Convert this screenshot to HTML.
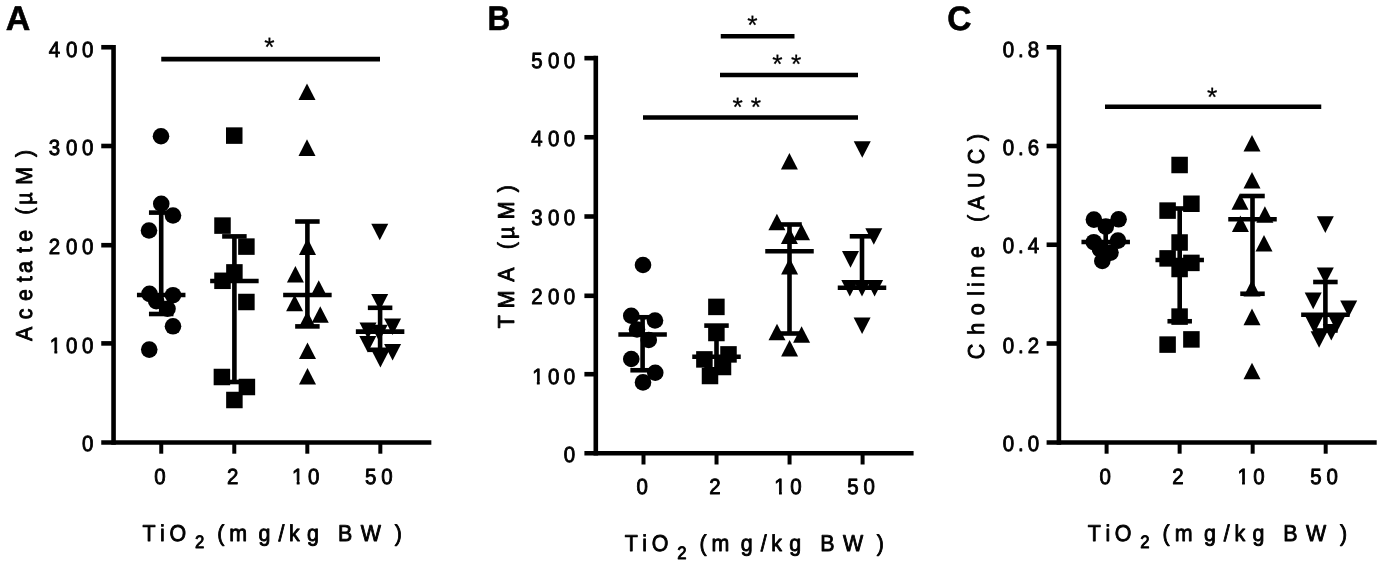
<!DOCTYPE html>
<html lang="en"><head><meta charset="utf-8"><title>Figure: Acetate, TMA and Choline vs TiO2 dose</title>
<style>
html,body{margin:0;padding:0;background:#fff}
svg{display:block}
svg text{font-family:"Liberation Sans",Arial,Helvetica,sans-serif;fill:#000;white-space:pre;text-rendering:geometricPrecision}
svg text.t{stroke:#000;stroke-width:0.9px;stroke-linejoin:round}
svg text.b{stroke:#000;stroke-width:.6px;stroke-linejoin:round}
svg text.s{stroke:#000;stroke-width:.25px}
svg>g{filter:blur(.35px)}
svg line{stroke:#000;fill:none;stroke-linecap:butt}
svg circle,svg rect,svg path{fill:#000}
</style></head><body>
<svg width="1384" height="573" viewBox="0 0 1384 573">
<rect x="0" y="0" width="1384" height="573" style="fill:#fff"/>
<g id="panelA">
<line x1="113.55" y1="44.95" x2="113.55" y2="444.8" stroke-width="4.6"/>
<line x1="101.25" y1="47.25" x2="113.55" y2="47.25" stroke-width="4.6"/>
<line x1="101.25" y1="146" x2="113.55" y2="146" stroke-width="4.6"/>
<line x1="101.25" y1="245.2" x2="113.55" y2="245.2" stroke-width="4.6"/>
<line x1="101.25" y1="343.4" x2="113.55" y2="343.4" stroke-width="4.6"/>
<line x1="101.25" y1="442.5" x2="431.35" y2="442.5" stroke-width="4.6"/>
<line x1="161.25" y1="442.5" x2="161.25" y2="453.7" stroke-width="4"/>
<line x1="234.28" y1="442.5" x2="234.28" y2="453.7" stroke-width="4"/>
<line x1="307.31" y1="442.5" x2="307.31" y2="453.7" stroke-width="4"/>
<line x1="380.34" y1="442.5" x2="380.34" y2="453.7" stroke-width="4"/>
<text class="t" transform="scale(0.93 1)" x="52.45 71.08 88.28" y="57.25" font-size="22">400</text>
<text class="t" transform="scale(0.93 1)" x="52.45 71.08 88.28" y="154.8" font-size="22">300</text>
<text class="t" transform="scale(0.93 1)" x="52.45 71.08 88.28" y="253.9" font-size="22">200</text>
<clipPath id="c1"><rect x="51.53" y="331.4" width="15.4" height="19.11"/><rect x="58.53" y="349" width="3.01" height="6.4"/><rect x="69.08" y="331.4" width="16.5" height="28.6"/><rect x="86.28" y="331.4" width="16.5" height="28.6"/></clipPath>
<text class="t" transform="scale(0.93 1)" clip-path="url(#c1)" x="53.53 71.08 88.28" y="353.4" font-size="22">100</text>
<text class="t" transform="scale(0.93 1)" x="88.28" y="451.3" font-size="22">0</text>
<text class="t" transform="scale(0.93 1)" x="165.81" y="483.5" font-size="22">0</text>
<text class="t" transform="scale(0.93 1)" x="244.09" y="483.5" font-size="22">2</text>
<clipPath id="c2"><rect x="312.09" y="461.5" width="15.4" height="19.11"/><rect x="319.09" y="479.1" width="3.01" height="6.4"/><rect x="329.14" y="461.5" width="16.5" height="28.6"/></clipPath>
<text class="t" transform="scale(0.93 1)" clip-path="url(#c2)" x="314.09 331.14" y="483.5" font-size="22">10</text>
<text class="t" transform="scale(0.93 1)" x="392.45 409.89" y="483.5" font-size="22">50</text>
<text class="t" transform="scale(0.93 1)" y="540.5" font-size="23" x="153.25 172.12 182.24">TiO<tspan x="209.63" dy="7.8" font-size="18">2</tspan><tspan dy="-7.8" x="224.46 233.52 246.64 278.07 299.46 310.82 330.22 352.42 363.44 387.86 424.33"> (mg/kg BW)</tspan></text>
<text transform="scale(1 1)" x="5.8" y="30.35" font-size="34" font-weight="bold" class="b">A</text>
<text class="t" transform="translate(32.4 0) rotate(-90) scale(0.93 1)" x="-366.66 -343.18 -323.61 -303.41 -293.5 -272.01 -260.06 -245.16 -230.83 -220.12 -198.61 -168.79" y="0" font-size="23">Acetate (µM)</text>
<line x1="161.25" y1="59.1" x2="380" y2="59.1" stroke-width="4.6"/>
<text class="s" x="264.14" y="55.98" font-size="26.5">*</text>
<line x1="136.95" y1="295" x2="185.45" y2="295" stroke-width="4.6"/>
<line x1="161.2" y1="212.6" x2="161.2" y2="314" stroke-width="4.6"/>
<line x1="148.95" y1="212.6" x2="173.45" y2="212.6" stroke-width="4.6"/>
<line x1="148.95" y1="314" x2="173.45" y2="314" stroke-width="4.6"/>
<circle cx="161" cy="136.25" r="8.3"/>
<circle cx="161.25" cy="203.75" r="8.3"/>
<circle cx="173" cy="215.5" r="8.3"/>
<circle cx="149" cy="230.5" r="8.3"/>
<circle cx="149.5" cy="293.9" r="8.3"/>
<circle cx="173" cy="295.2" r="8.3"/>
<circle cx="156.25" cy="301.25" r="8.3"/>
<circle cx="167.5" cy="308.75" r="8.3"/>
<circle cx="173" cy="326.3" r="8.3"/>
<circle cx="149.25" cy="349.6" r="8.3"/>
<line x1="210.15" y1="281" x2="258.65" y2="281" stroke-width="4.6"/>
<line x1="234.4" y1="236.4" x2="234.4" y2="382" stroke-width="4.6"/>
<line x1="222.15" y1="236.4" x2="246.65" y2="236.4" stroke-width="4.6"/>
<line x1="222.15" y1="382" x2="246.65" y2="382" stroke-width="4.6"/>
<rect x="226" y="127.35" width="16.5" height="16.5"/>
<rect x="214.25" y="217.35" width="16.5" height="16.5"/>
<rect x="238.15" y="238.35" width="16.5" height="16.5"/>
<rect x="226.15" y="264.15" width="16.5" height="16.5"/>
<rect x="214.25" y="272.55" width="16.5" height="16.5"/>
<rect x="238.15" y="293.75" width="16.5" height="16.5"/>
<rect x="213.65" y="368.75" width="16.5" height="16.5"/>
<rect x="238.65" y="378.75" width="16.5" height="16.5"/>
<rect x="226.15" y="391.75" width="16.5" height="16.5"/>
<line x1="283.15" y1="295" x2="331.65" y2="295" stroke-width="4.6"/>
<line x1="307.4" y1="221.5" x2="307.4" y2="326.4" stroke-width="4.6"/>
<line x1="295.15" y1="221.5" x2="319.65" y2="221.5" stroke-width="4.6"/>
<line x1="295.15" y1="326.4" x2="319.65" y2="326.4" stroke-width="4.6"/>
<path d="M307 83.5L315.5 100.1H298.5Z"/>
<path d="M307 139.3L315.5 155.9H298.5Z"/>
<path d="M307.5 238.3L316 254.9H299Z"/>
<path d="M295.4 266L303.9 282.6H286.9Z"/>
<path d="M318.75 280.2L327.25 296.8H310.25Z"/>
<path d="M294.6 294.7L303.1 311.3H286.1Z"/>
<path d="M320.25 306.2L328.75 322.8H311.75Z"/>
<path d="M307.25 311L315.75 327.6H298.75Z"/>
<path d="M307.5 342.4L316 359H299Z"/>
<path d="M307.5 368L316 384.6H299Z"/>
<line x1="355.85" y1="331.6" x2="404.35" y2="331.6" stroke-width="4.6"/>
<line x1="380.1" y1="307.8" x2="380.1" y2="349.8" stroke-width="4.6"/>
<line x1="367.85" y1="307.8" x2="392.35" y2="307.8" stroke-width="4.6"/>
<line x1="367.85" y1="349.8" x2="392.35" y2="349.8" stroke-width="4.6"/>
<path d="M371.25 223.75H388.25L379.75 240.35Z"/>
<path d="M371.2 294H388.2L379.7 310.6Z"/>
<path d="M384.1 318.5H401.1L392.6 335.1Z"/>
<path d="M359.5 322.5H376.5L368 339.1Z"/>
<path d="M370.7 324.8H387.7L379.2 341.4Z"/>
<path d="M359.3 336H376.3L367.8 352.6Z"/>
<path d="M384.1 344H401.1L392.6 360.6Z"/>
<path d="M371.9 351H388.9L380.4 367.6Z"/>
</g>
<g id="panelB">
<line x1="595.8" y1="55.85" x2="595.8" y2="455.6" stroke-width="4.6"/>
<line x1="584.4" y1="58.15" x2="595.8" y2="58.15" stroke-width="4.6"/>
<line x1="584.4" y1="137.25" x2="595.8" y2="137.25" stroke-width="4.6"/>
<line x1="584.4" y1="216.5" x2="595.8" y2="216.5" stroke-width="4.6"/>
<line x1="584.4" y1="295.8" x2="595.8" y2="295.8" stroke-width="4.6"/>
<line x1="584.4" y1="374.2" x2="595.8" y2="374.2" stroke-width="4.6"/>
<line x1="584.4" y1="453.3" x2="913.6" y2="453.3" stroke-width="4.6"/>
<line x1="643.5" y1="453.3" x2="643.5" y2="464.5" stroke-width="4"/>
<line x1="716.53" y1="453.3" x2="716.53" y2="464.5" stroke-width="4"/>
<line x1="789.56" y1="453.3" x2="789.56" y2="464.5" stroke-width="4"/>
<line x1="862.59" y1="453.3" x2="862.59" y2="464.5" stroke-width="4"/>
<text class="t" transform="scale(0.93 1)" x="571.22 589.25 606.13" y="68.15" font-size="22">500</text>
<text class="t" transform="scale(0.93 1)" x="571.22 589.25 606.13" y="146.25" font-size="22">400</text>
<text class="t" transform="scale(0.93 1)" x="571.22 589.25 606.13" y="224.8" font-size="22">300</text>
<text class="t" transform="scale(0.93 1)" x="571.22 589.25 606.13" y="304.3" font-size="22">200</text>
<clipPath id="c3"><rect x="570.29" y="361.8" width="15.4" height="19.11"/><rect x="577.29" y="379.4" width="3.01" height="6.4"/><rect x="587.25" y="361.8" width="16.5" height="28.6"/><rect x="604.13" y="361.8" width="16.5" height="28.6"/></clipPath>
<text class="t" transform="scale(0.93 1)" clip-path="url(#c3)" x="572.29 589.25 606.13" y="383.8" font-size="22">100</text>
<text class="t" transform="scale(0.93 1)" x="606.13" y="462" font-size="22">0</text>
<text class="t" transform="scale(0.93 1)" x="684.36" y="494.3" font-size="22">0</text>
<text class="t" transform="scale(0.93 1)" x="762.64" y="494.3" font-size="22">2</text>
<clipPath id="c4"><rect x="830.64" y="472.3" width="15.4" height="19.11"/><rect x="837.64" y="489.9" width="3.01" height="6.4"/><rect x="847.69" y="472.3" width="16.5" height="28.6"/></clipPath>
<text class="t" transform="scale(0.93 1)" clip-path="url(#c4)" x="832.64 849.69" y="494.3" font-size="22">10</text>
<text class="t" transform="scale(0.93 1)" x="911 928.44" y="494.3" font-size="22">50</text>
<text class="t" transform="scale(0.93 1)" y="551.3" font-size="23" x="671.8 690.67 700.79">TiO<tspan x="728.18" dy="7.8" font-size="18">2</tspan><tspan dy="-7.8" x="743.01 752.07 765.19 796.61 818.01 829.36 848.77 870.97 881.98 906.4 942.88"> (mg/kg BW)</tspan></text>
<text transform="scale(0.925 1)" x="527.03" y="30" font-size="34" font-weight="bold" class="b">B</text>
<text class="t" transform="translate(514.4 0) rotate(-90) scale(0.93 1)" x="-352.83 -331.4 -302.89 -284.95 -267.93 -257.11 -235.81 -206.64" y="0" font-size="23">TMA (µM)</text>
<line x1="720.75" y1="36.25" x2="794.5" y2="36.25" stroke-width="4.6"/>
<text class="s" x="747.34" y="33.98" font-size="26.5">*</text>
<line x1="720" y1="75" x2="858" y2="75" stroke-width="4.6"/>
<text class="s" x="772.34" y="72.83" font-size="26.5">*</text>
<text class="s" x="791.09" y="72.83" font-size="26.5">*</text>
<line x1="643" y1="117.5" x2="858" y2="117.5" stroke-width="4.6"/>
<text class="s" x="732.59" y="115.98" font-size="26.5">*</text>
<text class="s" x="750.74" y="115.98" font-size="26.5">*</text>
<line x1="618.35" y1="334.5" x2="666.85" y2="334.5" stroke-width="4.6"/>
<line x1="642.6" y1="317.25" x2="642.6" y2="370.25" stroke-width="4.6"/>
<line x1="630.35" y1="317.25" x2="654.85" y2="317.25" stroke-width="4.6"/>
<line x1="630.35" y1="370.25" x2="654.85" y2="370.25" stroke-width="4.6"/>
<circle cx="643" cy="265" r="8.3"/>
<circle cx="631.25" cy="315.75" r="8.3"/>
<circle cx="655" cy="320.5" r="8.3"/>
<circle cx="637" cy="329.5" r="8.3"/>
<circle cx="648.75" cy="340" r="8.3"/>
<circle cx="631.25" cy="359" r="8.3"/>
<circle cx="655.25" cy="372.75" r="8.3"/>
<circle cx="643" cy="382.4" r="8.3"/>
<line x1="692.25" y1="356.75" x2="740.75" y2="356.75" stroke-width="4.6"/>
<line x1="716.5" y1="325.6" x2="716.5" y2="369.3" stroke-width="4.6"/>
<line x1="704.25" y1="325.6" x2="728.75" y2="325.6" stroke-width="4.6"/>
<line x1="704.25" y1="369.3" x2="728.75" y2="369.3" stroke-width="4.6"/>
<rect x="708.15" y="298.65" width="16.5" height="16.5"/>
<rect x="708.15" y="324.75" width="16.5" height="16.5"/>
<rect x="720.25" y="346.15" width="16.5" height="16.5"/>
<rect x="696.15" y="351.15" width="16.5" height="16.5"/>
<rect x="714.75" y="358.75" width="16.5" height="16.5"/>
<rect x="701.75" y="367.75" width="16.5" height="16.5"/>
<line x1="765.25" y1="251.25" x2="813.75" y2="251.25" stroke-width="4.6"/>
<line x1="789.5" y1="224.5" x2="789.5" y2="333.5" stroke-width="4.6"/>
<line x1="777.25" y1="224.5" x2="801.75" y2="224.5" stroke-width="4.6"/>
<line x1="777.25" y1="333.5" x2="801.75" y2="333.5" stroke-width="4.6"/>
<path d="M789.4 153L797.9 169.6H780.9Z"/>
<path d="M776.9 213.75L785.4 230.35H768.4Z"/>
<path d="M801.5 223.75L810 240.35H793Z"/>
<path d="M789.4 227.5L797.9 244.1H780.9Z"/>
<path d="M789.6 258L798.1 274.6H781.1Z"/>
<path d="M777 323.75L785.5 340.35H768.5Z"/>
<path d="M801.6 326.25L810.1 342.85H793.1Z"/>
<path d="M789.6 340L798.1 356.6H781.1Z"/>
<line x1="837.75" y1="287.7" x2="886.25" y2="287.7" stroke-width="4.6"/>
<line x1="862" y1="236.3" x2="862" y2="287.7" stroke-width="4.6"/>
<line x1="849.75" y1="236.3" x2="874.25" y2="236.3" stroke-width="4.6"/>
<line x1="849.75" y1="287.7" x2="874.25" y2="287.7" stroke-width="4.6"/>
<path d="M853.75 141.25H870.75L862.25 157.85Z"/>
<path d="M865.3 228.25H882.3L873.8 244.85Z"/>
<path d="M842 251.1H859L850.5 267.7Z"/>
<path d="M841.3 280H858.3L849.8 296.6Z"/>
<path d="M853.5 280H870.5L862 296.6Z"/>
<path d="M866.1 280H883.1L874.6 296.6Z"/>
<path d="M853.6 317.5H870.6L862.1 334.1Z"/>
</g>
<g id="panelC">
<line x1="1058.9" y1="45" x2="1058.9" y2="444.8" stroke-width="4.6"/>
<line x1="1046.6" y1="47.3" x2="1058.9" y2="47.3" stroke-width="4.6"/>
<line x1="1046.6" y1="146" x2="1058.9" y2="146" stroke-width="4.6"/>
<line x1="1046.6" y1="244.75" x2="1058.9" y2="244.75" stroke-width="4.6"/>
<line x1="1046.6" y1="343.5" x2="1058.9" y2="343.5" stroke-width="4.6"/>
<line x1="1046.6" y1="442.5" x2="1376.7" y2="442.5" stroke-width="4.6"/>
<line x1="1106.6" y1="442.5" x2="1106.6" y2="453.7" stroke-width="4"/>
<line x1="1179.63" y1="442.5" x2="1179.63" y2="453.7" stroke-width="4"/>
<line x1="1252.66" y1="442.5" x2="1252.66" y2="453.7" stroke-width="4"/>
<line x1="1325.69" y1="442.5" x2="1325.69" y2="453.7" stroke-width="4"/>
<text class="t" transform="scale(0.93 1)" x="1078.23 1094.71 1105.12" y="57.3" font-size="22">0.8</text>
<text class="t" transform="scale(0.93 1)" x="1078.23 1094.71 1105.12" y="154.8" font-size="22">0.6</text>
<text class="t" transform="scale(0.93 1)" x="1078.23 1094.71 1105.12" y="253.45" font-size="22">0.4</text>
<text class="t" transform="scale(0.93 1)" x="1078.23 1094.71 1105.12" y="353" font-size="22">0.2</text>
<text class="t" transform="scale(0.93 1)" x="1078.23 1094.71 1105.12" y="451.3" font-size="22">0.0</text>
<text class="t" transform="scale(0.93 1)" x="1182.31" y="483.5" font-size="22">0</text>
<text class="t" transform="scale(0.93 1)" x="1260.59" y="483.5" font-size="22">2</text>
<clipPath id="c5"><rect x="1328.59" y="461.5" width="15.4" height="19.11"/><rect x="1335.59" y="479.1" width="3.01" height="6.4"/><rect x="1345.65" y="461.5" width="16.5" height="28.6"/></clipPath>
<text class="t" transform="scale(0.93 1)" clip-path="url(#c5)" x="1330.59 1347.65" y="483.5" font-size="22">10</text>
<text class="t" transform="scale(0.93 1)" x="1408.96 1426.4" y="483.5" font-size="22">50</text>
<text class="t" transform="scale(0.93 1)" y="540.5" font-size="23" x="1169.75 1188.62 1198.75">TiO<tspan x="1226.14" dy="7.8" font-size="18">2</tspan><tspan dy="-7.8" x="1240.97 1250.03 1263.15 1294.57 1315.97 1327.32 1346.72 1368.92 1379.94 1404.36 1440.83"> (mg/kg BW)</tspan></text>
<text transform="scale(0.985 1)" x="961.73" y="29.9" font-size="34" font-weight="bold" class="b">C</text>
<text class="t" transform="translate(984.1 0) rotate(-90) scale(0.93 1)" x="-386.17 -359.82 -338.87 -317.95 -308.69 -298.57 -277.37 -258.06 -238.68 -225.8 -202.04 -176.49 -151.59" y="0" font-size="23">Choline (AUC)</text>
<line x1="1105" y1="106.75" x2="1321.25" y2="106.75" stroke-width="4.6"/>
<text class="s" x="1206.94" y="105.68" font-size="26.5">*</text>
<line x1="1081.45" y1="242" x2="1129.95" y2="242" stroke-width="4.6"/>
<line x1="1105.7" y1="221.5" x2="1105.7" y2="251.7" stroke-width="4.6"/>
<line x1="1093.45" y1="221.5" x2="1117.95" y2="221.5" stroke-width="4.6"/>
<line x1="1093.45" y1="251.7" x2="1117.95" y2="251.7" stroke-width="4.6"/>
<circle cx="1093.9" cy="219.6" r="8.3"/>
<circle cx="1118.6" cy="219.3" r="8.3"/>
<circle cx="1105.8" cy="226.6" r="8.3"/>
<circle cx="1093.8" cy="242.2" r="8.3"/>
<circle cx="1118" cy="240.6" r="8.3"/>
<circle cx="1099.9" cy="249.1" r="8.3"/>
<circle cx="1110.5" cy="252.6" r="8.3"/>
<circle cx="1102.3" cy="261" r="8.3"/>
<line x1="1155.45" y1="260" x2="1203.95" y2="260" stroke-width="4.6"/>
<line x1="1179.7" y1="208.5" x2="1179.7" y2="321.25" stroke-width="4.6"/>
<line x1="1167.45" y1="208.5" x2="1191.95" y2="208.5" stroke-width="4.6"/>
<line x1="1167.45" y1="321.25" x2="1191.95" y2="321.25" stroke-width="4.6"/>
<rect x="1171.35" y="156.75" width="16.5" height="16.5"/>
<rect x="1183.15" y="195.5" width="16.5" height="16.5"/>
<rect x="1159.35" y="202.35" width="16.5" height="16.5"/>
<rect x="1171.35" y="234.25" width="16.5" height="16.5"/>
<rect x="1159.35" y="250.15" width="16.5" height="16.5"/>
<rect x="1183.15" y="254.65" width="16.5" height="16.5"/>
<rect x="1171.35" y="260.75" width="16.5" height="16.5"/>
<rect x="1171.35" y="308.35" width="16.5" height="16.5"/>
<rect x="1183.15" y="331.15" width="16.5" height="16.5"/>
<rect x="1159.35" y="336.35" width="16.5" height="16.5"/>
<line x1="1228.25" y1="219.3" x2="1276.75" y2="219.3" stroke-width="4.6"/>
<line x1="1252.5" y1="196" x2="1252.5" y2="293.75" stroke-width="4.6"/>
<line x1="1240.25" y1="196" x2="1264.75" y2="196" stroke-width="4.6"/>
<line x1="1240.25" y1="293.75" x2="1264.75" y2="293.75" stroke-width="4.6"/>
<path d="M1252 135L1260.5 151.6H1243.5Z"/>
<path d="M1252 172L1260.5 188.6H1243.5Z"/>
<path d="M1240 193.2L1248.5 209.8H1231.5Z"/>
<path d="M1264.9 206.25L1273.4 222.85H1256.4Z"/>
<path d="M1240.4 215.5L1248.9 232.1H1231.9Z"/>
<path d="M1264 235L1272.5 251.6H1255.5Z"/>
<path d="M1252 279.8L1260.5 296.4H1243.5Z"/>
<path d="M1252 308.6L1260.5 325.2H1243.5Z"/>
<path d="M1252 362.7L1260.5 379.3H1243.5Z"/>
<line x1="1301.15" y1="314.7" x2="1349.65" y2="314.7" stroke-width="4.6"/>
<line x1="1325.4" y1="282" x2="1325.4" y2="330.5" stroke-width="4.6"/>
<line x1="1313.15" y1="282" x2="1337.65" y2="282" stroke-width="4.6"/>
<line x1="1313.15" y1="330.5" x2="1337.65" y2="330.5" stroke-width="4.6"/>
<path d="M1316.8 216.3H1333.8L1325.3 232.9Z"/>
<path d="M1316.8 267.5H1333.8L1325.3 284.1Z"/>
<path d="M1304.7 292.6H1321.7L1313.2 309.2Z"/>
<path d="M1340.2 300.5H1357.2L1348.7 317.1Z"/>
<path d="M1305.7 317H1322.7L1314.2 333.6Z"/>
<path d="M1328.4 315.4H1345.4L1336.9 332Z"/>
<path d="M1322.8 324H1339.8L1331.3 340.6Z"/>
<path d="M1310.6 331.2H1327.6L1319.1 347.8Z"/>
</g>
</svg>
</body></html>
